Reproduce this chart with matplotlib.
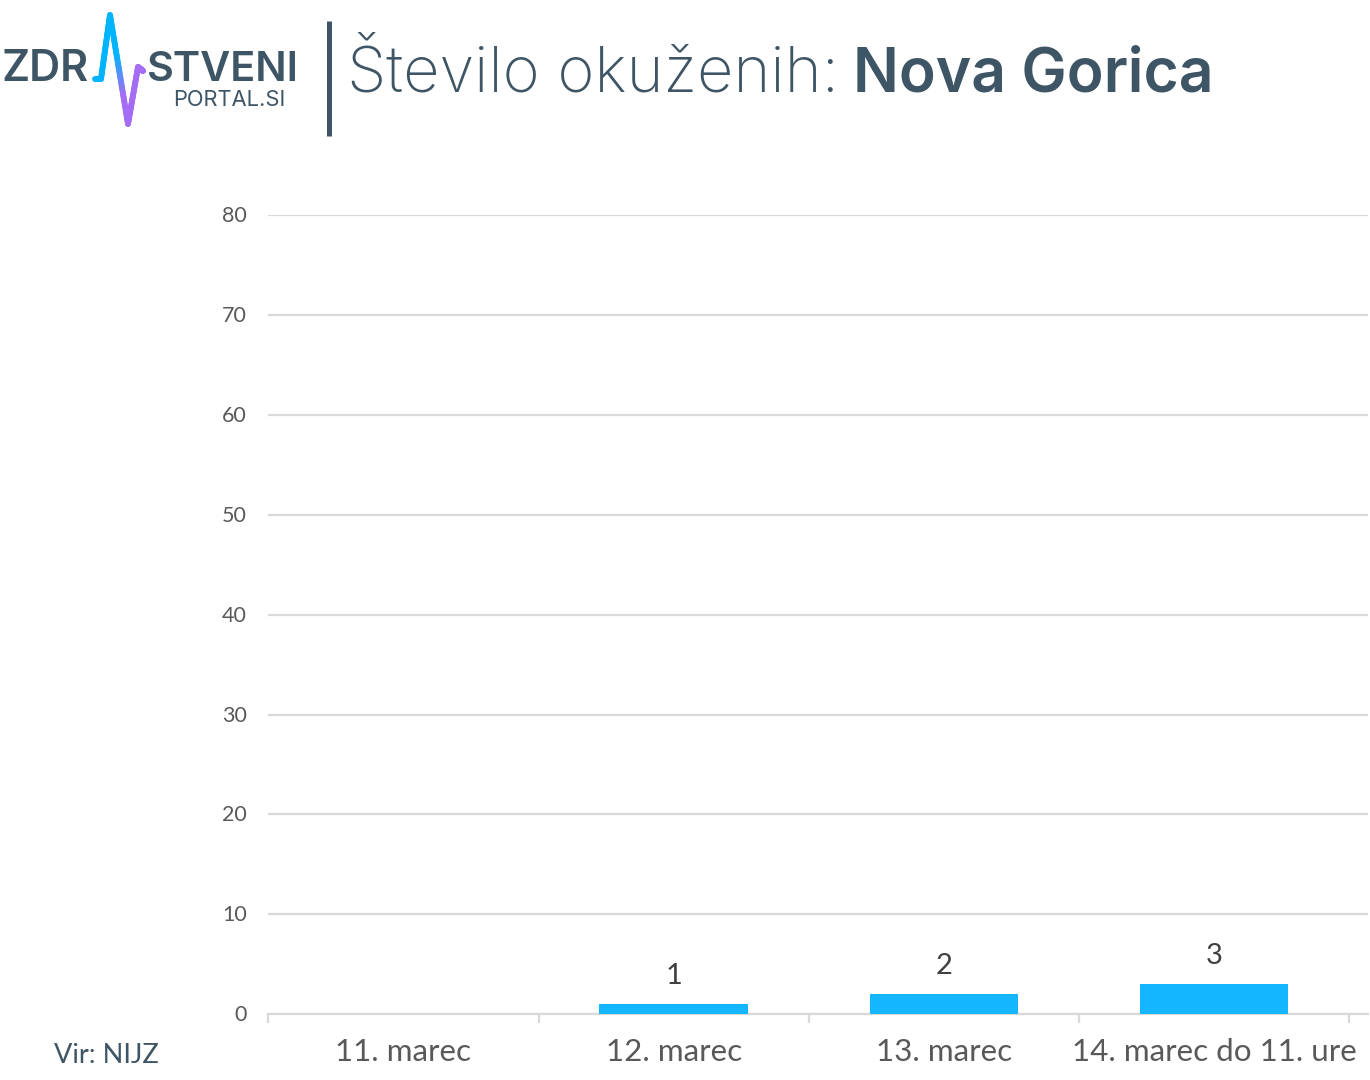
import numpy as np
import matplotlib
matplotlib.use("Agg")
import matplotlib.pyplot as plt
from matplotlib.collections import LineCollection
from matplotlib.ticker import FixedLocator
from matplotlib.transforms import ScaledTranslation

categories = ["11. marec", "12. marec", "13. marec", "14. marec do 11. ure"]
values = [0, 1, 2, 3]
value_labels = ["", "1", "2", "3"]
y_ticks = [0, 10, 20, 30, 40, 50, 60, 70, 80]

W, H = 1370, 1080
DARK = "#3e5566"
GREY = "#595959"
GRID = "#d9d9d9"
BLUE = "#14b7ff"
PURPLE = "#a56cf5"

plt.rcParams["font.family"] = ["Lato", "DejaVu Sans"]
HEAD = ["Inter", "DejaVu Sans"]
fig = plt.figure(figsize=(W / 100, H / 100), dpi=100, facecolor="white")

left, right, top, bottom = 268, 1368, 215, 1014.2
centre0 = 403.4
ax = fig.add_axes([left / W, 1 - bottom / H, (right - left) / W, (bottom - top) / H])
x = np.arange(len(categories))
step = 270.25
ax.set_xlim(-(centre0 - left) / step, (right - centre0) / step)
ax.set_ylim(0, 80)
ax.bar(x, values, width=0.55, color=BLUE, zorder=3)
for xi, v, lab in zip(x, values, value_labels):
    if lab:
        ax.annotate(lab, (xi, v), xytext=(0, 15), textcoords="offset pixels",
                    ha="center", va="bottom", fontsize=21, color="#404040", zorder=4)
for s in ["top", "right", "left"]:
    ax.spines[s].set_visible(False)
ax.spines["bottom"].set_color(GRID)
ax.spines["bottom"].set_linewidth(1.6)
ax.set_yticks(y_ticks)
ax.tick_params(axis="y", length=0, pad=15.3, labelsize=15.5, labelcolor=GREY)
for lab in ax.get_yticklabels():
    lab.set_transform(lab.get_transform() + ScaledTranslation(0, 1 / 100, fig.dpi_scale_trans))
ax.grid(axis="y", color=GRID, linewidth=1.6, zorder=0)
ax.set_axisbelow(True)
ax.set_xticks(x)
ax.set_xticklabels(categories, fontsize=22.6, color=GREY)
ax.tick_params(axis="x", length=0, pad=17)
ax.xaxis.set_minor_locator(FixedLocator(list(x - 0.5) + [x[-1] + 0.5]))
ax.tick_params(axis="x", which="minor", length=6.5, width=1.6, color=GRID)

# header overlay in pixel coordinates
ov = fig.add_axes([0, 0, 1, 1], facecolor="none")
ov.set_xlim(0, W)
ov.set_ylim(H, 0)
ov.axis("off")

# logo pulse: blue up to the peak, fading to purple on the way down
px = np.array([95, 101, 110, 128, 138, 143], float)
py = np.array([79, 79, 15, 124, 67, 71], float)
seg_x, seg_y, seg_f = [], [], []
for i in range(len(px) - 1):
    t = np.linspace(0, 1, 40, endpoint=False)
    sx = px[i] + (px[i + 1] - px[i]) * t
    sy = py[i] + (py[i + 1] - py[i]) * t
    seg_x.extend(sx)
    seg_y.extend(sy)
    if i < 2:
        seg_f.extend(np.zeros_like(t))
    elif i == 2:
        seg_f.extend(np.clip((sy - 55) / 40, 0, 1))
    else:
        seg_f.extend(np.ones_like(t))
seg_x.append(px[-1])
seg_y.append(py[-1])
pts = np.column_stack([seg_x, seg_y])
segs = np.stack([pts[:-1], pts[1:]], axis=1)
c0 = np.array(matplotlib.colors.to_rgb("#00b4ff"))
c1 = np.array(matplotlib.colors.to_rgb(PURPLE))
frac = np.array(seg_f)[:, None]
ov.add_collection(LineCollection(segs, colors=c0 * (1 - frac) + c1 * frac,
                                 linewidths=4.2, capstyle="round", joinstyle="round"))

ov.text(1, 81, "ZDR", fontsize=31, fontweight="semibold", family=HEAD, color=DARK, ha="left", va="baseline")
ov.text(299, 81, "STVENI", fontsize=29.8, fontweight="semibold", family=HEAD, color=DARK, ha="right", va="baseline")
ov.text(285, 106, "PORTAL.SI", fontsize=15.8, family=HEAD, color=DARK, ha="right", va="baseline")
ov.plot([329.5, 329.5], [21, 136], color=DARK, lw=3.6, solid_capstyle="butt")

ov.text(347, 91, "Število okuženih:", fontsize=45.4, family=HEAD, fontweight="light", color=DARK,
        ha="left", va="baseline")
ov.text(853, 91, "Nova Gorica", fontsize=43.6, family=HEAD, fontweight="semibold", color=DARK,
        ha="left", va="baseline")

ov.text(54, 1063, "Vir: NIJZ", fontsize=19.5, color=DARK, ha="left", va="baseline")

fig.savefig("out.png", dpi=100, facecolor="white")
